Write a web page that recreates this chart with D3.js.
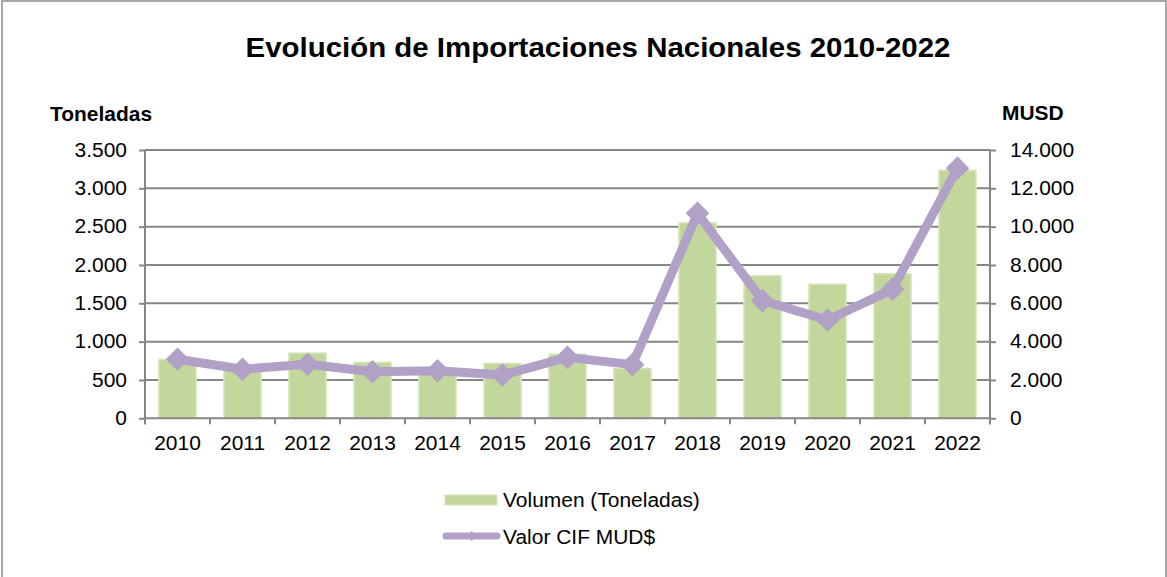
<!DOCTYPE html>
<html>
<head>
<meta charset="utf-8">
<script src="https://cdn.jsdelivr.net/npm/d3@7"></script>
<style>
  html, body { margin: 0; padding: 0; background: #fff; }
  svg { display: block; font-family: "Liberation Sans", Arial, sans-serif; }
</style>
</head>
<body>
<svg id="chart" width="1167" height="577"></svg>
<script>
// ---- Data ----
const years = ["2010","2011","2012","2013","2014","2015","2016","2017","2018","2019","2020","2021","2022"];
const volumenToneladas = [770, 620, 850, 730, 640, 715, 835, 650, 2550, 1860, 1750, 1885, 3235];
const valorCIF = [3080, 2560, 2820, 2430, 2480, 2260, 3180, 2800, 10700, 6140, 5130, 6730, 13050];
const leftTicks = [0, 500, 1000, 1500, 2000, 2500, 3000, 3500];
const rightTicks = [0, 2000, 4000, 6000, 8000, 10000, 12000, 14000];
const titleText = "Evolución de Importaciones Nacionales 2010-2022";
const leftAxisTitle = "Toneladas";
const rightAxisTitle = "MUSD";
const legendLabels = ["Volumen (Toneladas)", "Valor CIF MUD$"];

// ---- Layout ----
const W = 1167, H = 577;
const plot = { left: 145, right: 990, top: 150, bottom: 418.3 };
const SX = 1.075;   // horizontal text stretch of the original
const SXT = 1.09;
const FS = 19.5;
const axisColor = "#868686";
const barFill = "#c3d69b", barStroke = "#d7e4bd";
const lineColor = "#b2a1c7";

const locale = d3.formatLocale({ decimal: ",", thousands: ".", grouping: [3], currency: ["$", ""] });
const fmt = locale.format(",d");

const svg = d3.select("#chart");

// chart border
svg.append("rect").attr("x", 2).attr("y", 1).attr("width", W - 3).attr("height", H + 5)
  .attr("fill", "#fff").attr("stroke", "#8a8a8a").attr("stroke-width", 1.5);

const x = d3.scaleBand().domain(years).range([plot.left, plot.right])
  .paddingInner(0.43).paddingOuter(0.215);
const yL = d3.scaleLinear().domain([0, 3500]).range([plot.bottom, plot.top]);
const yR = d3.scaleLinear().domain([0, 14000]).range([plot.bottom, plot.top]);

function stretchedText(g, txt, px, py, opts) {
  const t = g.append("text")
    .attr("transform", `translate(${px},${py}) scale(${opts.sx || SX},1)`)
    .attr("x", 0).attr("y", 0)
    .attr("font-size", opts.size || FS)
    .attr("font-weight", opts.weight || "normal")
    .attr("text-anchor", opts.anchor || "start")
    .attr("fill", "#000")
    .text(txt);
  if (opts.dy) t.attr("dy", opts.dy);
  return t;
}

// gridlines
svg.append("g").selectAll("line").data(leftTicks.slice(1)).join("line")
  .attr("x1", plot.left).attr("x2", plot.right)
  .attr("y1", d => yL(d)).attr("y2", d => yL(d))
  .attr("stroke", axisColor).attr("stroke-width", 2);

// bars
svg.append("g").selectAll("rect").data(years).join("rect")
  .attr("x", d => x(d)).attr("width", x.bandwidth())
  .attr("y", (d, i) => yL(volumenToneladas[i]))
  .attr("height", (d, i) => yL(0) - yL(volumenToneladas[i]))
  .attr("fill", barFill).attr("stroke", barStroke).attr("stroke-width", 1.5);

// left axis
const gL = svg.append("g").attr("transform", `translate(${plot.left},0)`)
  .call(d3.axisLeft(yL).tickValues(leftTicks).tickSize(6).tickFormat(""));
gL.select(".domain").attr("stroke", axisColor).attr("stroke-width", 2).attr("d", `M0,${plot.top}V${plot.bottom + 6}`);
gL.selectAll(".tick line").attr("stroke", axisColor).attr("stroke-width", 2);
leftTicks.forEach(v => stretchedText(svg, fmt(v), plot.left - 18, yL(v), { anchor: "end", dy: "0.35em" }));

// right axis
const gR = svg.append("g").attr("transform", `translate(${plot.right},0)`)
  .call(d3.axisRight(yR).tickValues(rightTicks).tickSize(6).tickFormat(""));
gR.select(".domain").attr("stroke", axisColor).attr("stroke-width", 2).attr("d", `M0,${plot.top}V${plot.bottom + 6}`);
gR.selectAll(".tick line").attr("stroke", axisColor).attr("stroke-width", 2);
rightTicks.forEach(v => stretchedText(svg, fmt(v), plot.right + 20, yR(v), { anchor: "start", dy: "0.35em" }));

// bottom axis
const step = x.step();
const boundaries = d3.range(years.length + 1).map(i => plot.left + i * step);
svg.append("line").attr("x1", plot.left).attr("x2", plot.right)
  .attr("y1", plot.bottom).attr("y2", plot.bottom)
  .attr("stroke", axisColor).attr("stroke-width", 2);
svg.append("g").selectAll("line").data(boundaries).join("line")
  .attr("x1", d => d).attr("x2", d => d)
  .attr("y1", plot.bottom).attr("y2", plot.bottom + 6)
  .attr("stroke", axisColor).attr("stroke-width", 2);
years.forEach(y => stretchedText(svg, y, x(y) + x.bandwidth() / 2, plot.bottom + 32, { anchor: "middle" }));

// line series
const cx = d => x(d) + x.bandwidth() / 2;
const lineGen = d3.line().x(d => cx(d[0])).y(d => yR(d[1]));
const pts = years.map((y, i) => [y, valorCIF[i]]);
svg.append("path").datum(pts).attr("d", lineGen)
  .attr("fill", "none").attr("stroke", lineColor).attr("stroke-width", 9)
  .attr("stroke-linejoin", "round");
const diamond = d3.symbol(d3.symbolSquare, 280);
svg.append("g").selectAll("path").data(pts).join("path")
  .attr("d", diamond)
  .attr("transform", d => `translate(${cx(d[0])},${yR(d[1])}) rotate(45)`)
  .attr("fill", lineColor);

// titles
stretchedText(svg, titleText, 598, 57, { size: 27, weight: "bold", anchor: "middle", sx: SXT });
stretchedText(svg, leftAxisTitle, 50, 121, { weight: "bold" });
stretchedText(svg, rightAxisTitle, 1002, 120, { weight: "bold" });

// legend
svg.append("rect").attr("x", 445).attr("y", 495).attr("width", 52).attr("height", 10)
  .attr("fill", barFill).attr("stroke", barStroke).attr("stroke-width", 1);
stretchedText(svg, legendLabels[0], 503, 507, {});
svg.append("line").attr("x1", 446).attr("x2", 497).attr("y1", 536).attr("y2", 536)
  .attr("stroke", lineColor).attr("stroke-width", 7).attr("stroke-linecap", "round");
svg.append("path").attr("d", d3.symbol(d3.symbolSquare, 50))
  .attr("transform", "translate(471.5,536) rotate(45)").attr("fill", lineColor);
stretchedText(svg, legendLabels[1], 503, 544, {});
</script>
</body>
</html>
